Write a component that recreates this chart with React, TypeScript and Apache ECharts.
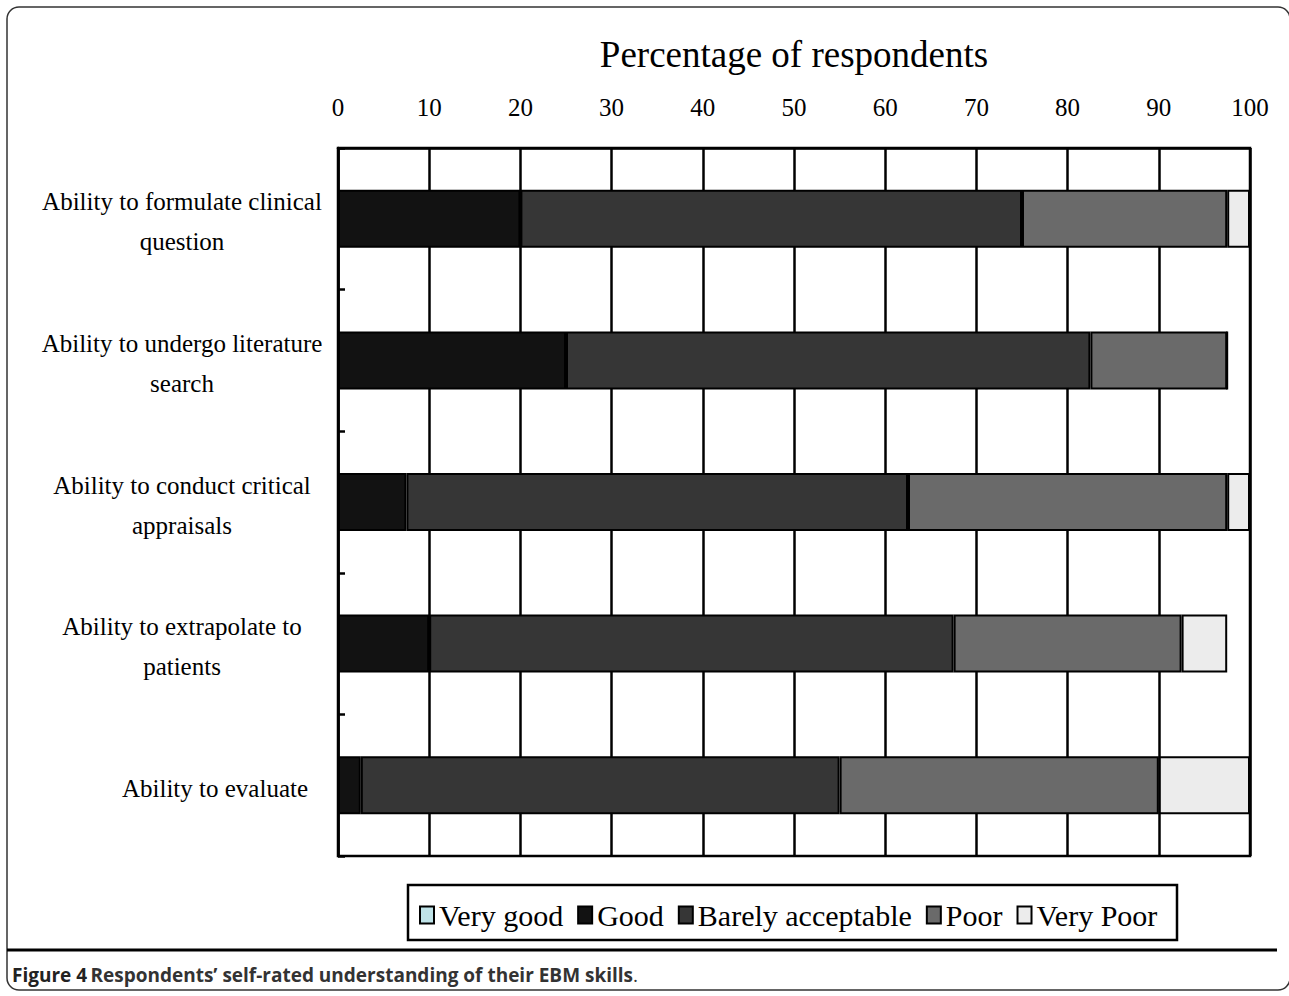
import React, { useEffect, useRef } from "react";
import * as echarts from "echarts";

const categories = [
  "Ability to formulate clinical\nquestion",
  "Ability to undergo literature\nsearch",
  "Ability to conduct critical\nappraisals",
  "Ability to extrapolate to\npatients",
  "Ability to evaluate",
];
const seriesNames = ["Very good", "Good", "Barely acceptable", "Poor", "Very Poor"];
const veryGood = [0, 0, 0, 0, 0];
const good = [20, 25, 7.5, 10, 2.5];
const barely = [55, 57.5, 55, 57.5, 52.5];
const poor = [22.5, 15, 35, 25, 35];
const veryPoor = [2.5, 0, 2.5, 5, 10];
const xTicks = [0, 10, 20, 30, 40, 50, 60, 70, 80, 90, 100];
const axisTitle = "Percentage of respondents";
const caption = "Respondents’ self-rated understanding of their EBM skills";

const colors = ["#bfe3e8", "#121212", "#363636", "#6a6a6a", "#ececec"];
const FONT = "Liberation Serif";

export default function App() {
  const ref = useRef<HTMLDivElement>(null);
  useEffect(() => {
    if (!ref.current) return;
    const chart = echarts.init(ref.current, null, { renderer: "svg" });
    const values = [veryGood, good, barely, poor, veryPoor];
    chart.setOption({
      animation: false,
      backgroundColor: "#ffffff",
      grid: {
        left: 338,
        right: 39,
        top: 148,
        bottom: 140,
        show: true,
        borderColor: "#000",
        borderWidth: 2.5,
      },
      xAxis: {
        type: "value",
        position: "top",
        min: xTicks[0],
        max: xTicks[xTicks.length - 1],
        interval: 10,
        name: axisTitle,
        nameLocation: "middle",
        nameGap: 75,
        nameTextStyle: { fontFamily: FONT, fontSize: 37, color: "#000" },
        axisLine: { show: true, lineStyle: { color: "#000", width: 2.5 } },
        axisTick: { show: false },
        axisLabel: { fontFamily: FONT, fontSize: 25, color: "#000", margin: 28 },
        splitLine: { show: true, lineStyle: { color: "#000", width: 2.5 } },
      },
      yAxis: {
        type: "category",
        data: categories,
        inverse: true,
        axisLine: { show: true, lineStyle: { color: "#000", width: 2.5 } },
        axisTick: { show: true, inside: true, length: 7, lineStyle: { color: "#000", width: 2.5 } },
        axisLabel: {
          fontFamily: FONT,
          fontSize: 25,
          color: "#000",
          align: "center",
          margin: 156,
          lineHeight: 40,
          padding: [6, 0, 0, 0],
          formatter: (v: string) => (v.indexOf("\n") < 0 ? "{e|" + v + "}" : v),
          rich: {
            e: { fontFamily: FONT, fontSize: 25, color: "#000", padding: [0, 0, 0, 66] },
          },
        },
        splitLine: { show: false },
      },
      legend: {
        data: seriesNames,
        left: 414,
        top: 895,
        itemWidth: 14,
        itemHeight: 17,
        itemGap: 14,
        icon: "rect",
        textStyle: { fontFamily: FONT, fontSize: 30, color: "#000", padding: [0, 0, 0, 0] },
      },
      series: seriesNames.map((name, i) => ({
        name,
        type: "bar",
        stack: "total",
        barWidth: 58,
        data: values[i],
        itemStyle: { color: colors[i], borderColor: "#000", borderWidth: 2 },
        emphasis: { disabled: true },
      })),
      graphic: [
        {
          type: "rect",
          shape: { x: 7, y: 7, width: 1283, height: 983, r: 12 },
          style: { fill: "none", stroke: "#333", lineWidth: 1.5 },
          silent: true,
          z: -1,
        },
        {
          type: "rect",
          shape: { x: 408, y: 885, width: 769, height: 55 },
          style: { fill: "none", stroke: "#000", lineWidth: 2.5 },
          silent: true,
        },
        {
          type: "line",
          shape: { x1: 7, y1: 950, x2: 1277, y2: 950 },
          style: { stroke: "#000", lineWidth: 3 },
          silent: true,
        },
        {
          type: "text",
          x: 12,
          y: 975,
          style: {
            text: "{b|Figure 4} {s|" + caption + "}{n|.}",
            verticalAlign: "middle",
            rich: {
              b: { fontFamily: "Open Sans", fontSize: 19, fontWeight: "bold", fill: "#222" },
              s: { fontFamily: "Open Sans", fontSize: 19, fontWeight: "bold", fill: "#333" },
              n: { fontFamily: "Open Sans", fontSize: 19, fontWeight: "normal", fill: "#333" },
            },
          },
          silent: true,
        },
      ],
    });
    return () => chart.dispose();
  }, []);
  return (
    <div
      ref={ref}
      style={{ position: "fixed", left: 0, top: 0, width: 1289, height: 996 }}
    />
  );
}
